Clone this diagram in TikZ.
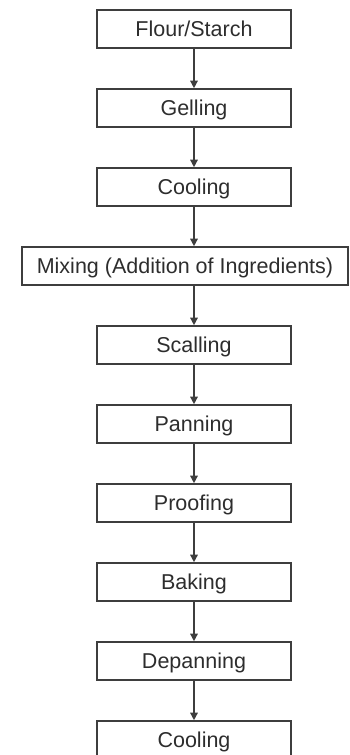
\documentclass[tikz,border=0pt]{standalone}
\usepackage{fontspec}
\setmainfont{Liberation Sans}
\usetikzlibrary{positioning,arrows.meta}
\definecolor{linegray}{RGB}{62,62,62}
\definecolor{textgray}{RGB}{45,45,45}
\begin{document}
\begin{tikzpicture}[x=1pt,y=1pt,node distance=39.4pt,
  stepbox/.style={draw=linegray,line width=1.6pt,minimum width=194pt,minimum height=38pt,inner sep=0pt,
    text height=15.4pt,text depth=0pt,text=textgray,font=\fontsize{21.5}{24}\selectfont},
  flowarrow/.style={draw=linegray,line width=1.4pt,-{Triangle[length=7.5pt,width=7.5pt]}}]
\useasboundingbox (0,0) rectangle (350,-755);
\node[stepbox](flour) at (194,-29){Flour/Starch};
\node[stepbox,below=of flour](gelling){Gelling};
\node[stepbox,below=of gelling](cooling){Cooling};
\node[stepbox,below=of cooling,xshift=-9pt,minimum width=326pt](mixing){Mixing (Addition of Ingredients)};
\node[stepbox,below=of mixing,xshift=9pt](scalling){Scalling};
\node[stepbox,below=of scalling](panning){Panning};
\node[stepbox,below=of panning](proofing){Proofing};
\node[stepbox,below=of proofing](baking){Baking};
\node[stepbox,below=of baking](depanning){Depanning};
\node[stepbox,below=of depanning](cooling2){Cooling};
% arrows
\draw[flowarrow] (flour)--(gelling);
\draw[flowarrow] (gelling)--(cooling);
\draw[flowarrow] (cooling.south)--(cooling.south |- mixing.north);
\draw[flowarrow] (mixing.south -| scalling)--(scalling.north);
\draw[flowarrow] (scalling)--(panning);
\draw[flowarrow] (panning)--(proofing);
\draw[flowarrow] (proofing)--(baking);
\draw[flowarrow] (baking)--(depanning);
\draw[flowarrow] (depanning)--(cooling2);
\end{tikzpicture}
\end{document}
